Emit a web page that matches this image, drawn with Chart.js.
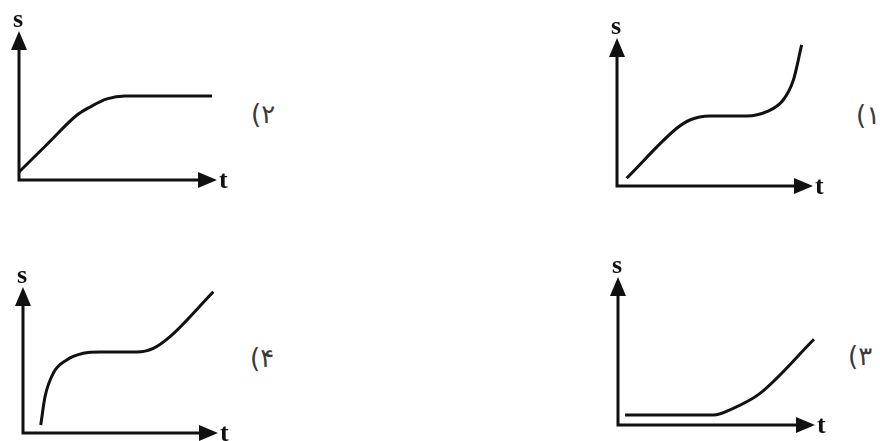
<!DOCTYPE html>
<html>
<head>
<meta charset="utf-8">
<script src="https://cdn.jsdelivr.net/npm/chart.js@4"></script>
<style>
  html, body { margin: 0; padding: 0; background: #fff; }
  #page { position: relative; width: 880px; height: 441px; overflow: hidden; }
  canvas { position: absolute; }
  .gozine {
    position: absolute; direction: rtl; unicode-bidi: isolate;
    font-family: "DejaVu Sans", sans-serif; font-size: 26px; color: #3a3a3a;
    line-height: 1; white-space: nowrap;
  }
</style>
</head>
<body>
<div id="page"></div>
<script>
// values (t and s on a 0..10 grid, arrow tip = 10)
const t1 = [0.49, 3.05, 3.72, 4.74, 6.62, 7.64, 8.48, 9.0, 9.42];
const s1 = [0.52, 3.9, 4.46, 4.73, 4.73, 5.02, 5.81, 7.16, 9.53];

const t2 = [0, 1.46, 2.93, 3.59, 4.44, 5.35, 9.75];
const s2 = [0.54, 2.45, 4.36, 4.9, 5.44, 5.64, 5.64];

const t3 = [0.36, 4.84, 5.85, 7.21, 9.95];
const s3 = [0.68, 0.68, 1.13, 2.14, 5.79];

const t4 = [0.91, 1.13, 1.55, 2.24, 3.09, 3.95, 5.83, 6.68, 7.54, 9.76];
const s4 = [0.55, 2.49, 4.09, 5.0, 5.46, 5.55, 5.55, 5.8, 6.6, 9.68];

const labels = ['۱)', '۲)', '۳)', '۴)'];
const axisNames = ['s', 't'];

const PAD = 32;
const INK = '#111';

// origin + arrow tips of each little graph
const graphs = [
    { t: t1, s: s1, ox: 617, oy: 186, tipX: 813, tipY: 38, label: labels[0], lx: 856, ly: 102 },
    { t: t2, s: s2, ox: 19, oy: 180, tipX: 217, tipY: 31, label: labels[1], lx: 251, ly: 101 },
    { t: t3, s: s3, ox: 618, oy: 425, tipX: 815, tipY: 277, label: labels[2], lx: 848, ly: 343 },
    { t: t4, s: s4, ox: 23, oy: 433, tipX: 218, tipY: 287, label: labels[3], lx: 250, ly: 345 }
];

const axesArrows = {
    id: 'axesArrows',
    beforeDatasetsDraw(chart) {
        const { ctx, scales: { x, y } } = chart;
        const x0 = x.getPixelForValue(0), y0 = y.getPixelForValue(0);
        const xt = x.getPixelForValue(10), yt = y.getPixelForValue(10);
        const L = 19, W = 8;
        ctx.save();
        ctx.strokeStyle = INK;
        ctx.fillStyle = INK;
        ctx.lineWidth = 3;
        ctx.lineCap = 'butt';
        ctx.beginPath();
        ctx.moveTo(x0, y0 + 1.5);
        ctx.lineTo(x0, yt + L - 2);
        ctx.moveTo(x0 - 1.5, y0);
        ctx.lineTo(xt - L + 2, y0);
        ctx.stroke();
        // arrow heads
        ctx.beginPath();
        ctx.moveTo(x0, yt);
        ctx.lineTo(x0 - W, yt + L);
        ctx.lineTo(x0 + W, yt + L);
        ctx.closePath();
        ctx.fill();
        ctx.beginPath();
        ctx.moveTo(xt, y0);
        ctx.lineTo(xt - L, y0 - W);
        ctx.lineTo(xt - L, y0 + W);
        ctx.closePath();
        ctx.fill();
        // axis names
        ctx.font = 'bold 26px "Liberation Serif", serif';
        ctx.textAlign = 'center';
        ctx.textBaseline = 'alphabetic';
        ctx.fillText(axisNames[0], x0 - 1, yt - 4);
        ctx.textAlign = 'left';
        ctx.fillText(axisNames[1], xt + 2, y0 + 8);
        ctx.restore();
    }
};

const page = document.getElementById('page');

graphs.forEach(g => {
    const canvas = document.createElement('canvas');
    const w = g.tipX - g.ox + 2 * PAD, h = g.oy - g.tipY + 2 * PAD;
    canvas.width = w;
    canvas.height = h;
    canvas.style.left = (g.ox - PAD) + 'px';
    canvas.style.top = (g.tipY - PAD) + 'px';
    page.appendChild(canvas);

    new Chart(canvas, {
        type: 'line',
        data: {
            datasets: [{
                data: g.t.map((v, i) => ({ x: v, y: g.s[i] })),
                borderColor: INK,
                borderWidth: 3,
                pointRadius: 0,
                cubicInterpolationMode: 'monotone',
                fill: false,
                clip: false
            }]
        },
        options: {
            responsive: false,
            animation: false,
            layout: { padding: PAD },
            plugins: { legend: { display: false }, tooltip: { enabled: false } },
            scales: {
                x: { type: 'linear', min: 0, max: 10, display: false },
                y: { type: 'linear', min: 0, max: 10, display: false }
            }
        },
        plugins: [axesArrows]
    });

    const lab = document.createElement('span');
    lab.className = 'gozine';
    lab.textContent = g.label;
    lab.style.left = g.lx + 'px';
    lab.style.top = g.ly + 'px';
    page.appendChild(lab);
});
</script>
</body>
</html>
